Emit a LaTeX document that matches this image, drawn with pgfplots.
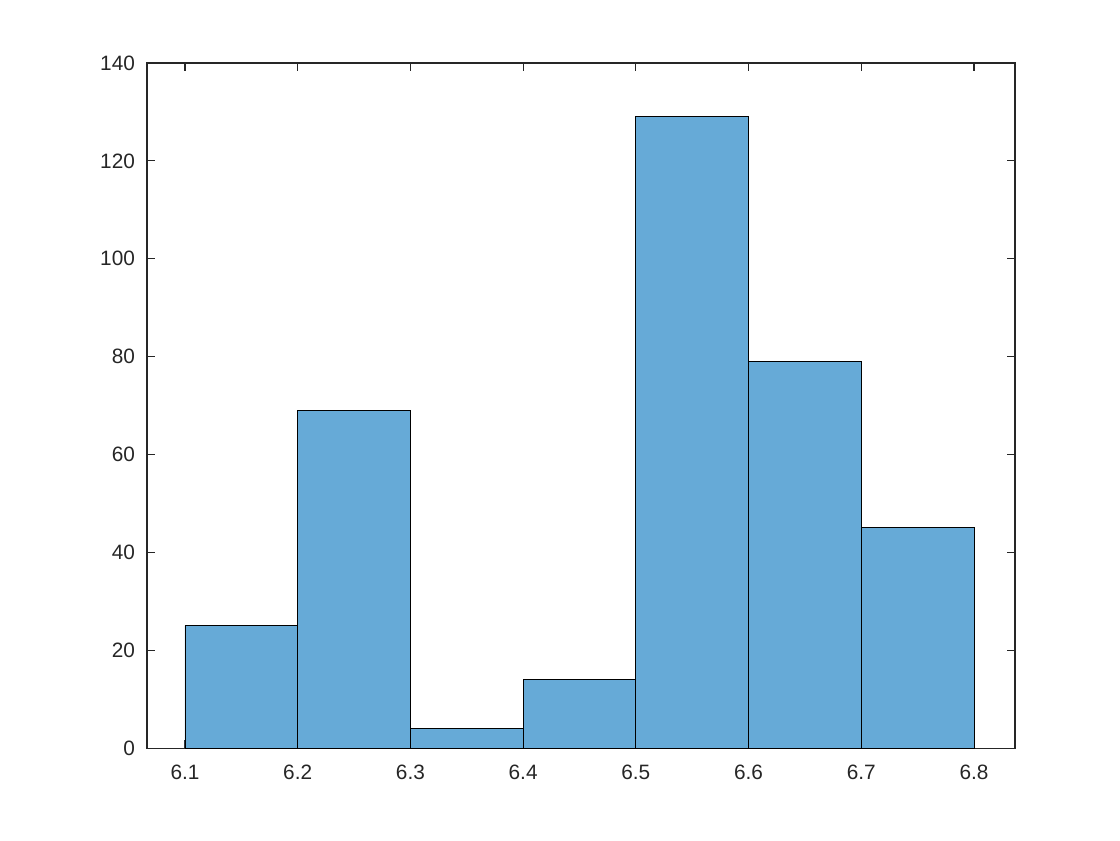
\documentclass[border=0pt]{standalone}
\usepackage{fontspec}
\setmainfont{Liberation Sans}
\usepackage{pgfplots}
\pgfplotsset{compat=1.18}
\definecolor{barfill}{RGB}{102,170,215}
\definecolor{axgray}{RGB}{38,38,38}
\begin{document}
\begin{tikzpicture}[x=1bp,y=1bp]
\begin{axis}[
  name=ax,
  scale only axis,
  width=325.5bp, height=256.9bp,
  xmin=6.0663, xmax=6.8364,
  ymin=0, ymax=140,
  xtick={6.1,6.2,...,6.8},
  ytick={0,20,...,140},
  xticklabels={6.1,6.2,6.3,6.4,6.5,6.6,6.7,6.8},
  tick align=inside,
  major tick length=3bp,
  axis line style={axgray, line width=0.4bp},
  every tick/.style={axgray, line width=0.4bp},
  tick label style={font=\fontsize{7.8bp}{9bp}\selectfont, text=axgray},
  /pgf/number format/assume math mode=true,
  /pgf/number format/fixed,
  xticklabel style={yshift=-3bp},
  yticklabel style={xshift=-1bp},
]
\addplot[ybar interval, fill=barfill, draw=black, line width=0.35bp]
  coordinates {(6.1,25) (6.2,69) (6.3,4) (6.4,14) (6.5,129) (6.6,79) (6.7,45) (6.8,45)};
\end{axis}
\path ([shift={(-55.125bp,-34.5bp)}]ax.south west) rectangle ([shift={(39.375bp,23.625bp)}]ax.north east);
\end{tikzpicture}
\end{document}
